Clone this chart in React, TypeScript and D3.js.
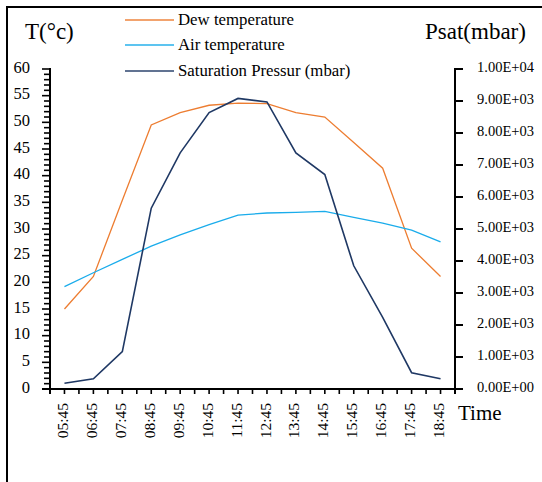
import React from "react";
import * as d3 from "d3";

const times = ["05:45","06:45","07:45","08:45","09:45","10:45","11:45","12:45","13:45","14:45","15:45","16:45","17:45","18:45"];
const dewTemp = [15.0, 21.1, 35.4, 49.5, 51.8, 53.2, 53.6, 53.5, 51.8, 51.0, 46.2, 41.4, 26.4, 21.1];
const airTemp = [19.2, 21.8, 24.3, 26.8, 28.9, 30.8, 32.6, 33.0, 33.1, 33.3, 32.2, 31.1, 29.8, 27.6];
const satPressure = [180, 320, 1170, 5650, 7380, 8640, 9080, 8970, 7380, 6700, 3850, 2240, 510, 320];
const leftTicks = [0, 5, 10, 15, 20, 25, 30, 35, 40, 45, 50, 55, 60];
const rightTicks = [0, 1000, 2000, 3000, 4000, 5000, 6000, 7000, 8000, 9000, 10000];

const FONT = "Liberation Serif, Times New Roman, serif";
const ORANGE = "#ED7D31";
const BLUE = "#1AACEB";
const NAVY = "#1F3864";

const fmtE = (v: number) => v.toExponential(2).replace("e", "E").replace(/E([+-])(\d)$/, "E$10$2");

export default function App() {
  const W = 542, H = 482;
  const x0 = 50, x1 = 455, yTop = 69, yBot = 389;
  const x = d3.scaleBand<string>().domain(times).range([x0, x1]).padding(0);
  const cx = (t: string) => (x(t) as number) + x.bandwidth() / 2;
  const yL = d3.scaleLinear().domain([0, 60]).range([yBot, yTop]);
  const yR = d3.scaleLinear().domain([0, 10000]).range([yBot, yTop]);

  const lineL = d3.line<number>().x((_, i) => cx(times[i])).y((d) => yL(d));
  const lineR = d3.line<number>().x((_, i) => cx(times[i])).y((d) => yR(d));

  const minorL = d3.range(0, 61, 1);
  const xTicks = d3.range(0, times.length * 2 + 1).map((k) => x0 + (k * x.bandwidth()) / 2);

  const legend = [
    { label: "Dew temperature", color: ORANGE, y: 20 },
    { label: "Air temperature", color: BLUE, y: 45 },
    { label: "Saturation Pressur (mbar)", color: NAVY, y: 71 },
  ];
  const ts = { fontFamily: FONT };

  return (
    <svg width={W} height={H} style={{ position: "absolute", left: 0, top: 0, background: "#fff", fontFamily: FONT }}>
      <rect x={0} y={0} width={W} height={H} fill="#fff" />
      <path d={`M7,${H} V7 H${W}`} fill="none" stroke="#000" strokeWidth={2} />

      <text x={25} y={39} fontSize={23} fill="#000" style={ts}>T(°c)</text>
      <text x={425} y={39} fontSize={23} fill="#000" style={ts}>Psat(mbar)</text>

      {legend.map((l) => (
        <g key={l.label}>
          <line x1={125} x2={174} y1={l.y} y2={l.y} stroke={l.color} strokeWidth={2} opacity={0.7} />
          <text x={178} y={l.y} dy="0.05em" dominantBaseline="middle" fontSize={16.8} fill="#000" style={ts}>{l.label}</text>
        </g>
      ))}

      <line x1={x0} x2={x0} y1={yTop - 1} y2={yBot + 5} stroke="#000" strokeWidth={2} />
      {minorL.map((v) => (
        <line key={"ml" + v} x1={v % 5 === 0 ? x0 - 8 : x0 - 6} x2={x0} y1={yL(v)} y2={yL(v)} stroke="#000" strokeWidth={1.6} />
      ))}
      {leftTicks.map((v) => (
        <text key={"tl" + v} x={30} y={yL(v)} textAnchor="end" dominantBaseline="middle" fontSize={16.5} fill="#000" style={ts}>{v}</text>
      ))}

      <line x1={x1} x2={x1} y1={yTop - 1} y2={yBot + 5} stroke="#000" strokeWidth={2} />
      {rightTicks.map((v) => (
        <g key={"tr" + v}>
          <line x1={x1} x2={x1 + 8} y1={yR(v)} y2={yR(v)} stroke="#000" strokeWidth={2} />
          <text x={477} y={yR(v)} dominantBaseline="middle" fontSize={14.5} fill="#000" style={ts}>{fmtE(v)}</text>
        </g>
      ))}

      <line x1={x0 - 8} x2={x1 + 8} y1={yBot} y2={yBot} stroke="#000" strokeWidth={2} />
      {xTicks.map((px, k) => (
        <line key={"xt" + k} x1={px} x2={px} y1={yBot} y2={yBot + 5} stroke="#000" strokeWidth={1.6} />
      ))}
      {times.map((t) => (
        <text key={"xl" + t} transform={`translate(${cx(t)},403) rotate(-90)`} textAnchor="end" dominantBaseline="middle" fontSize={15.5} fill="#000" style={ts}>{t}</text>
      ))}
      <text x={458} y={420} fontSize={21} fill="#000" style={ts}>Time</text>

      <path d={lineL(dewTemp) as string} fill="none" stroke={ORANGE} strokeWidth={1.3} />
      <path d={lineL(airTemp) as string} fill="none" stroke={BLUE} strokeWidth={1.3} />
      <path d={lineR(satPressure) as string} fill="none" stroke={NAVY} strokeWidth={1.6} />
    </svg>
  );
}
